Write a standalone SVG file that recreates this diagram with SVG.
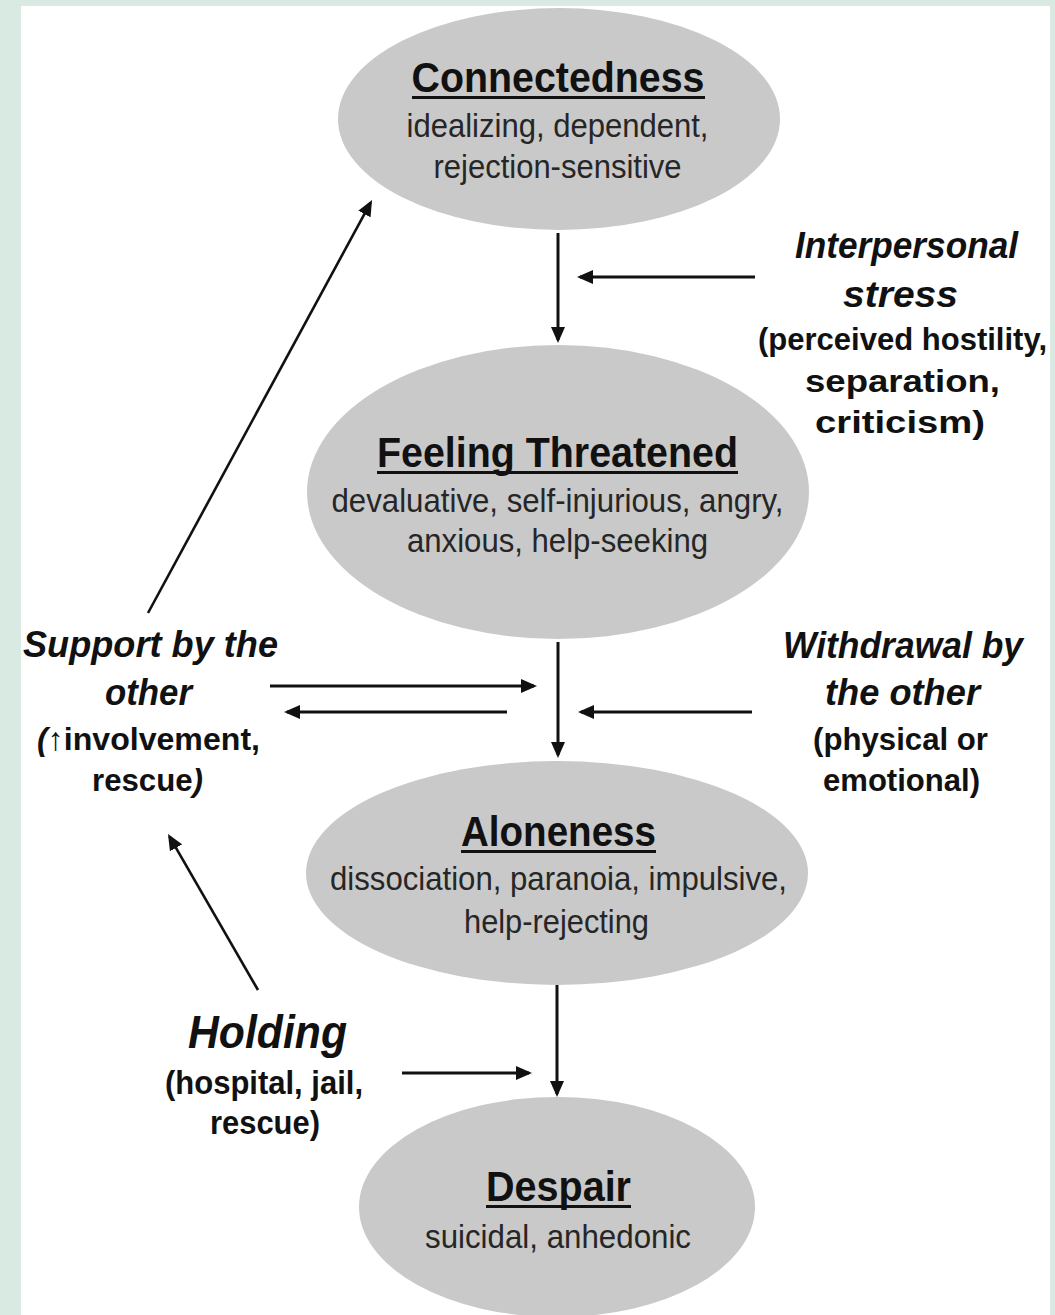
<svg xmlns="http://www.w3.org/2000/svg" width="1055" height="1315" viewBox="0 0 1055 1315">
  <defs>
    <style>
      .node{fill:#c9c9c9}
      .title{font-family:"Liberation Sans",Arial,sans-serif;font-weight:bold;font-size:42px;fill:#111;text-anchor:middle}
      .sub{font-family:"Liberation Sans",Arial,sans-serif;font-size:34px;fill:#262626;text-anchor:middle}
      .lab{font-family:"Liberation Sans",Arial,sans-serif;font-weight:bold;font-style:italic;font-size:36px;fill:#111;text-anchor:middle}
      .par{font-family:"Liberation Sans",Arial,sans-serif;font-weight:bold;font-size:32px;fill:#111;text-anchor:middle}
      .ul{stroke:#111;stroke-width:3}
      .edge{stroke:#111;stroke-width:3;fill:none}
      .thin{stroke-width:2.6}
    </style>
    <marker id="ah" viewBox="0 0 16 14" refX="13" refY="7" markerWidth="16" markerHeight="14" markerUnits="userSpaceOnUse" orient="auto">
      <path d="M0,0 L16,7 L0,14 z" fill="#111"/>
    </marker>
  </defs>

  <rect x="0" y="0" width="1055" height="1315" fill="#d8eae2"/>
  <rect x="21" y="6" width="1029" height="1309" fill="#ffffff"/>

  <g id="connectedness">
    <ellipse class="node" cx="559" cy="119" rx="221" ry="111"/>
    <text class="title" x="558" y="92" textLength="293" lengthAdjust="spacingAndGlyphs">Connectedness</text>
    <line class="ul" x1="412" y1="97.5" x2="705" y2="97.5"/>
    <text class="sub" x="557.5" y="137" textLength="302" lengthAdjust="spacingAndGlyphs">idealizing, dependent,</text>
    <text class="sub" x="557.5" y="178" textLength="248" lengthAdjust="spacingAndGlyphs">rejection-sensitive</text>
  </g>

  <g id="feeling-threatened">
    <ellipse class="node" cx="558" cy="492" rx="251" ry="147"/>
    <text class="title" x="557.5" y="467" textLength="361" lengthAdjust="spacingAndGlyphs">Feeling Threatened</text>
    <line class="ul" x1="377" y1="472.5" x2="738" y2="472.5"/>
    <text class="sub" x="557.5" y="512" textLength="452" lengthAdjust="spacingAndGlyphs">devaluative, self-injurious, angry,</text>
    <text class="sub" x="557.5" y="552" textLength="301" lengthAdjust="spacingAndGlyphs">anxious, help-seeking</text>
  </g>

  <g id="aloneness">
    <ellipse class="node" cx="557" cy="873" rx="251" ry="112"/>
    <text class="title" x="558.5" y="846" textLength="195" lengthAdjust="spacingAndGlyphs">Aloneness</text>
    <line class="ul" x1="461" y1="851.5" x2="656" y2="851.5"/>
    <text class="sub" x="558.5" y="890" textLength="457" lengthAdjust="spacingAndGlyphs">dissociation, paranoia, impulsive,</text>
    <text class="sub" x="556.5" y="933" textLength="185" lengthAdjust="spacingAndGlyphs">help-rejecting</text>
  </g>

  <g id="despair">
    <ellipse class="node" cx="557" cy="1207" rx="198" ry="110"/>
    <text class="title" x="558.5" y="1201" textLength="145" lengthAdjust="spacingAndGlyphs">Despair</text>
    <line class="ul" x1="486" y1="1206.5" x2="631" y2="1206.5"/>
    <text class="sub" x="558" y="1248" textLength="266" lengthAdjust="spacingAndGlyphs">suicidal, anhedonic</text>
  </g>

  <g id="interpersonal-stress">
    <text class="lab" x="906.5" y="258" textLength="223" lengthAdjust="spacingAndGlyphs">Interpersonal</text>
    <text class="lab" x="900.5" y="307" textLength="115" lengthAdjust="spacingAndGlyphs">stress</text>
    <text class="par" x="902.5" y="350" textLength="289" lengthAdjust="spacingAndGlyphs">(perceived hostility,</text>
    <text class="par" x="902.5" y="392" textLength="195" lengthAdjust="spacingAndGlyphs">separation,</text>
    <text class="par" x="900" y="433" textLength="170" lengthAdjust="spacingAndGlyphs">criticism)</text>
  </g>

  <g id="support-by-the-other">
    <text class="lab" x="150.5" y="657" textLength="255" lengthAdjust="spacingAndGlyphs">Support by the</text>
    <text class="lab" x="148.5" y="705" textLength="87" lengthAdjust="spacingAndGlyphs">other</text>
    <text class="par" x="148.5" y="750" textLength="223" lengthAdjust="spacingAndGlyphs"><tspan font-style="italic">(</tspan>↑involvement,</text>
    <text class="par" x="147.5" y="791" textLength="111" lengthAdjust="spacingAndGlyphs">rescue<tspan font-style="italic">)</tspan></text>
  </g>

  <g id="withdrawal-by-the-other">
    <text class="lab" x="903" y="658" textLength="240" lengthAdjust="spacingAndGlyphs">Withdrawal by</text>
    <text class="lab" x="902.5" y="705" textLength="155" lengthAdjust="spacingAndGlyphs">the other</text>
    <text class="par" x="900.5" y="750" textLength="175" lengthAdjust="spacingAndGlyphs">(physical or</text>
    <text class="par" x="901.5" y="791" textLength="157" lengthAdjust="spacingAndGlyphs">emotional)</text>
  </g>

  <g id="holding">
    <text class="lab" x="267.5" y="1048" style="font-size:46px" textLength="159" lengthAdjust="spacingAndGlyphs">Holding</text>
    <text class="par" x="264" y="1094" style="font-size:33px" textLength="198" lengthAdjust="spacingAndGlyphs">(hospital, jail,</text>
    <text class="par" x="265" y="1134" style="font-size:33px" textLength="110" lengthAdjust="spacingAndGlyphs">rescue)</text>
  </g>

  <g id="connectors">
    <line class="edge" x1="558" y1="233" x2="558" y2="340" marker-end="url(#ah)"/>
    <line class="edge" x1="755" y1="277" x2="580" y2="277" marker-end="url(#ah)"/>
    <line class="edge" x1="558" y1="642" x2="558" y2="755" marker-end="url(#ah)"/>
    <line class="edge" x1="270" y1="686" x2="534" y2="686" marker-end="url(#ah)"/>
    <line class="edge" x1="507" y1="712" x2="287" y2="712" marker-end="url(#ah)"/>
    <line class="edge" x1="752" y1="712" x2="581" y2="712" marker-end="url(#ah)"/>
    <line class="edge" x1="557" y1="985" x2="557" y2="1094" marker-end="url(#ah)"/>
    <line class="edge" x1="402" y1="1073" x2="529" y2="1073" marker-end="url(#ah)"/>
    <line class="edge thin" x1="148" y1="613" x2="370.6" y2="202.6" marker-end="url(#ah)"/>
    <line class="edge thin" x1="258" y1="990" x2="169.5" y2="836.6" marker-end="url(#ah)"/>
  </g>
</svg>
